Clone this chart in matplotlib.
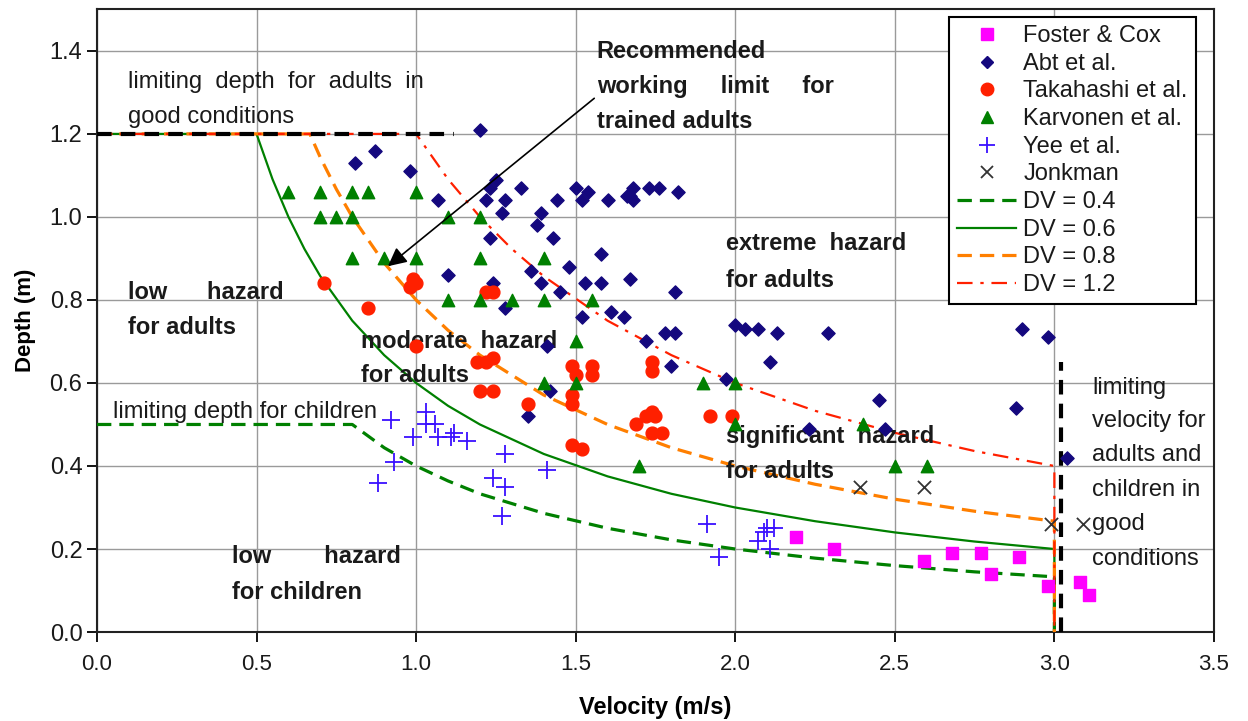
import matplotlib
matplotlib.use('Agg')
import matplotlib.pyplot as plt
from matplotlib.lines import Line2D

plt.rcParams['font.family'] = ['Liberation Sans', 'DejaVu Sans']

# measured points (velocity m/s, depth m)
foster_v = [2.19, 2.31, 2.59, 2.68, 2.77, 2.89, 2.80, 2.98, 3.08, 3.11]
foster_d = [0.23, 0.20, 0.17, 0.19, 0.19, 0.18, 0.14, 0.11, 0.12, 0.09]

abt_v = [1.20, 0.87, 0.81, 0.98, 1.23, 1.25, 1.33, 1.50, 1.54, 1.07, 1.22, 1.28, 1.44,
         1.52, 1.27, 1.39, 1.23, 1.38, 1.43, 1.36, 1.48, 1.39, 1.45, 1.53, 1.10, 1.24,
         1.28, 1.52, 1.60, 1.66, 1.68, 1.68, 1.67, 1.73, 1.76, 1.82, 1.58, 1.58, 1.67,
         1.81, 1.61, 1.65, 1.72, 1.78, 1.81, 2.00, 2.03, 2.07, 2.13, 2.29, 2.11, 1.80,
         1.97, 2.45, 2.23, 2.47, 2.90, 2.98, 2.88, 3.04, 1.41, 1.42, 1.35]
abt_d = [1.21, 1.16, 1.13, 1.11, 1.07, 1.09, 1.07, 1.07, 1.06, 1.04, 1.04, 1.04, 1.04,
         1.04, 1.01, 1.01, 0.95, 0.98, 0.95, 0.87, 0.88, 0.84, 0.82, 0.84, 0.86, 0.84,
         0.78, 0.76, 1.04, 1.05, 1.07, 1.04, 1.05, 1.07, 1.07, 1.06, 0.91, 0.84, 0.85,
         0.82, 0.77, 0.76, 0.70, 0.72, 0.72, 0.74, 0.73, 0.73, 0.72, 0.72, 0.65, 0.64,
         0.61, 0.56, 0.49, 0.49, 0.73, 0.71, 0.54, 0.42, 0.69, 0.58, 0.52]

taka_v = [0.71, 0.85, 0.99, 0.98, 1.00, 1.00, 1.22, 1.24, 1.19, 1.22, 1.24, 1.20, 1.24,
          1.35, 1.49, 1.50, 1.55, 1.55, 1.49, 1.49, 1.49, 1.52, 1.69, 1.72, 1.74, 1.74,
          1.74, 1.75, 1.74, 1.77, 1.92, 1.99]
taka_d = [0.84, 0.78, 0.85, 0.83, 0.84, 0.69, 0.82, 0.82, 0.65, 0.65, 0.66, 0.58, 0.58,
          0.55, 0.64, 0.62, 0.64, 0.62, 0.55, 0.57, 0.45, 0.44, 0.50, 0.52, 0.53, 0.65,
          0.63, 0.52, 0.48, 0.48, 0.52, 0.52]

karv_v = [0.6, 0.7, 0.8, 0.85, 1.0, 0.7, 0.75, 0.8, 1.1, 1.2, 0.8, 0.9, 1.0, 1.2, 1.4,
          1.1, 1.2, 1.3, 1.4, 1.55, 1.5, 1.4, 1.5, 1.7, 1.9, 2.0, 2.0, 2.4, 2.5, 2.6]
karv_d = [1.06, 1.06, 1.06, 1.06, 1.06, 1.0, 1.0, 1.0, 1.0, 1.0, 0.9, 0.9, 0.9, 0.9, 0.9,
          0.8, 0.8, 0.8, 0.8, 0.8, 0.7, 0.6, 0.6, 0.4, 0.6, 0.6, 0.5, 0.5, 0.4, 0.4]

yee_v = [1.03, 0.92, 1.03, 1.06, 0.99, 1.07, 1.11, 1.12, 1.16, 0.93, 0.88, 1.28, 1.24,
         1.28, 1.27, 1.41, 1.91, 1.95, 2.10, 2.12, 2.09, 2.07, 2.11]
yee_d = [0.53, 0.51, 0.50, 0.50, 0.47, 0.47, 0.47, 0.48, 0.46, 0.41, 0.36, 0.43, 0.37,
         0.35, 0.28, 0.39, 0.26, 0.18, 0.25, 0.25, 0.24, 0.22, 0.20]

jonk_v = [2.39, 2.59, 2.99, 3.09]
jonk_d = [0.35, 0.35, 0.26, 0.26]

# DV threshold curves
dv04_v = [0, 0.8, 0.9, 1.0, 1.1, 1.2, 1.4, 1.6, 1.8, 2.0, 2.25, 2.5, 2.75, 3.0, 3.0]
dv04_d = [0.5, 0.5, 0.444, 0.4, 0.364, 0.333, 0.286, 0.25, 0.222, 0.2, 0.178, 0.16,
          0.145, 0.133, 0.0]
dv06_v = [0, 0.5, 0.55, 0.6, 0.65, 0.7, 0.8, 0.9, 1.0, 1.1, 1.2, 1.4, 1.6, 1.8, 2.0,
          2.25, 2.5, 2.75, 3.0, 3.0]
dv06_d = [1.2, 1.2, 1.091, 1.0, 0.923, 0.857, 0.75, 0.667, 0.6, 0.545, 0.5, 0.429,
          0.375, 0.333, 0.3, 0.267, 0.24, 0.218, 0.2, 0.0]
dv08_v = [0, 0.667, 0.7, 0.75, 0.8, 0.9, 1.0, 1.1, 1.2, 1.4, 1.6, 1.8, 2.0, 2.25, 2.5,
          2.75, 3.0, 3.0]
dv08_d = [1.2, 1.2, 1.143, 1.067, 1.0, 0.889, 0.8, 0.727, 0.667, 0.571, 0.5, 0.444,
          0.4, 0.356, 0.32, 0.291, 0.267, 0.0]
dv12_v = [0, 1.0, 1.1, 1.2, 1.3, 1.4, 1.6, 1.8, 2.0, 2.25, 2.5, 2.75, 3.0, 3.0]
dv12_d = [1.2, 1.2, 1.091, 1.0, 0.923, 0.857, 0.75, 0.667, 0.6, 0.533, 0.48, 0.436,
          0.4, 0.0]

# limiting depth (adults) and limiting velocity
lim_depth_v = [0, 1.12]
lim_depth_d = [1.2, 1.2]
lim_vel_v = [3.02, 3.02]
lim_vel_d = [0, 0.65]

x_ticks = [0.0, 0.5, 1.0, 1.5, 2.0, 2.5, 3.0, 3.5]
y_ticks = [0.0, 0.2, 0.4, 0.6, 0.8, 1.0, 1.2, 1.4]

fig = plt.figure(figsize=(12.48, 7.21), dpi=100)
ax = fig.add_axes([0.0777, 0.1234, 0.8950, 0.8636])

green = '#008000'
orange = '#FF7F00'
red = '#FF2000'

ax.plot(dv04_v, dv04_d, color=green, lw=2.3, dashes=(4.5, 2.5), zorder=3)
ax.plot(dv06_v, dv06_d, color=green, lw=1.6, zorder=3)
ax.plot(dv08_v, dv08_d, color=orange, lw=2.3, dashes=(4.5, 2.5), zorder=3)
ax.plot(dv12_v, dv12_d, color=red, lw=1.6, dashes=(7, 3.5, 1.5, 3.5), zorder=3)
ax.plot(lim_depth_v, lim_depth_d, color='black', lw=3, dashes=(3.5, 2.2), zorder=4)
ax.plot(lim_vel_v, lim_vel_d, color='black', lw=3, dashes=(3.5, 2.2), zorder=4)

ax.scatter(foster_v, foster_d, marker='s', s=70, color='#FF00FF', zorder=5)
ax.scatter(abt_v, abt_d, marker='D', s=45, color='#14087E', zorder=5)
ax.scatter(taka_v, taka_d, marker='o', s=85, color=red, zorder=5)
ax.scatter(karv_v, karv_d, marker='^', s=80, color=green, zorder=5)
ax.scatter(yee_v, yee_d, marker='+', s=150, color='#3A10FF', linewidths=1.3, zorder=5)
ax.scatter(jonk_v, jonk_d, marker='x', s=90, color='#333333', linewidths=1.3, zorder=5)

ax.annotate('', xy=(0.905, 0.877), xytext=(1.565, 1.29),
            arrowprops=dict(arrowstyle='-|>', color='black', lw=1.2,
                            mutation_scale=28), zorder=6)

fs = 17
tc = '#1a1a1a'
ax.text(0.097, 1.325, 'limiting  depth  for  adults  in', fontsize=fs, color=tc, va='center')
ax.text(0.097, 1.241, 'good conditions', fontsize=fs, color=tc, va='center')
ax.text(1.566, 1.398, 'Recommended', fontsize=fs, color=tc, va='center', fontweight='bold')
ax.text(1.566, 1.313, 'working     limit     for', fontsize=fs, color=tc, va='center',
        fontweight='bold')
ax.text(1.566, 1.229, 'trained adults', fontsize=fs, color=tc, va='center', fontweight='bold')
ax.text(0.097, 0.817, 'low      hazard', fontsize=fs, color=tc, va='center', fontweight='bold')
ax.text(0.097, 0.733, 'for adults', fontsize=fs, color=tc, va='center', fontweight='bold')
ax.text(0.828, 0.701, 'moderate  hazard', fontsize=fs, color=tc, va='center', fontweight='bold')
ax.text(0.828, 0.617, 'for adults', fontsize=fs, color=tc, va='center', fontweight='bold')
ax.text(1.972, 0.935, 'extreme  hazard', fontsize=fs, color=tc, va='center', fontweight='bold')
ax.text(1.972, 0.848, 'for adults', fontsize=fs, color=tc, va='center', fontweight='bold')
ax.text(1.972, 0.472, 'significant  hazard', fontsize=fs, color=tc, va='center',
        fontweight='bold')
ax.text(1.972, 0.386, 'for adults', fontsize=fs, color=tc, va='center', fontweight='bold')
ax.text(0.422, 0.183, 'low        hazard', fontsize=fs, color=tc, va='center', fontweight='bold')
ax.text(0.422, 0.096, 'for children', fontsize=fs, color=tc, va='center', fontweight='bold')
ax.text(0.05, 0.530, 'limiting depth for children', fontsize=fs, color=tc, va='center')
vel_lines = ['limiting', 'velocity for', 'adults and', 'children in', 'good', 'conditions']
vel_y = [0.588, 0.508, 0.427, 0.342, 0.260, 0.176]
for s, yy in zip(vel_lines, vel_y):
    ax.text(3.119, yy, s, fontsize=fs, color=tc, va='center')

ax.set_xlim(0, 3.5)
ax.set_ylim(0, 1.5)
ax.set_xticks(x_ticks)
ax.set_yticks(y_ticks)
ax.set_xticklabels([f'{t:.1f}' for t in x_ticks], fontsize=16)
ax.set_yticklabels([f'{t:.1f}' for t in y_ticks], fontsize=17)
ax.tick_params(axis='both', direction='out', length=7, width=1.3, labelcolor=tc)
ax.tick_params(axis='x', pad=9)
ax.grid(True, color='#9a9a9a', lw=1.0)
ax.set_axisbelow(True)
for sp in ax.spines.values():
    sp.set_linewidth(1.5)
    sp.set_color('#222222')

ax.set_xlabel('Velocity (m/s)', fontsize=17, fontweight='bold', labelpad=15)
ax.set_ylabel('Depth (m)', fontsize=16, fontweight='bold', labelpad=10)

handles = [
    Line2D([], [], ls='none', marker='s', ms=8, color='#FF00FF'),
    Line2D([], [], ls='none', marker='D', ms=6, color='#14087E'),
    Line2D([], [], ls='none', marker='o', ms=9, color=red),
    Line2D([], [], ls='none', marker='^', ms=9, color=green),
    Line2D([], [], ls='none', marker='+', ms=12, mew=1.3, color='#3A10FF'),
    Line2D([], [], ls='none', marker='x', ms=9, mew=1.3, color='#333333'),
    Line2D([], [], color=green, lw=2.3, dashes=(4.5, 2.5)),
    Line2D([], [], color=green, lw=1.6),
    Line2D([], [], color=orange, lw=2.3, dashes=(4.5, 2.5)),
    Line2D([], [], color=red, lw=1.6, dashes=(7, 3.5, 1.5, 3.5)),
]
labels = ['Foster & Cox', 'Abt et al.', 'Takahashi et al.', 'Karvonen et al.',
          'Yee et al.', 'Jonkman', 'DV = 0.4', 'DV = 0.6', 'DV = 0.8', 'DV = 1.2']
leg = ax.legend(handles, labels, loc='upper right', bbox_to_anchor=(0.984, 0.988),
                fontsize=17, frameon=True, fancybox=False, edgecolor='black',
                framealpha=1, borderpad=0.35, labelspacing=0.24, handlelength=2.5,
                handletextpad=0.3, borderaxespad=0)
leg.get_frame().set_linewidth(1.5)
for t in leg.get_texts():
    t.set_color(tc)
leg.set_zorder(10)

fig.savefig('out.png', dpi=100)
